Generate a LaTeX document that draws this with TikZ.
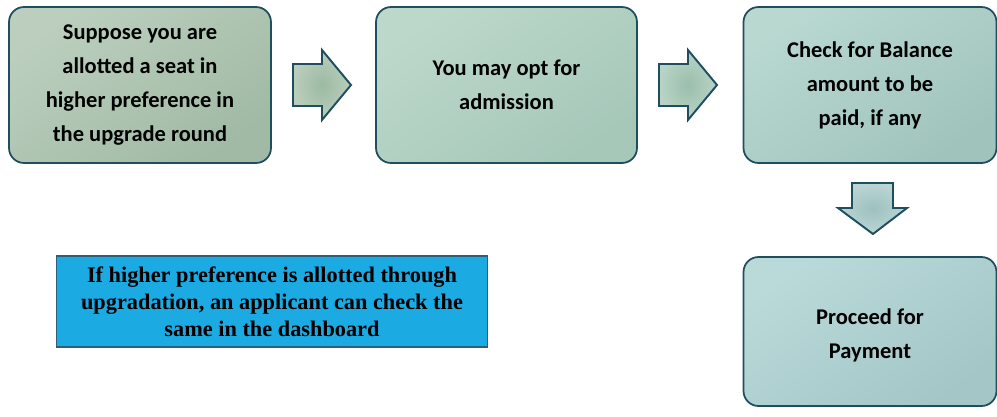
\documentclass[tikz,border=0pt]{standalone}
\usepackage{fontspec}
\setmainfont{Carlito}
\newfontfamily\notefont{Liberation Serif}
\usepackage{xcolor}
\usepackage{tikz}
\usetikzlibrary{positioning}

\definecolor{edgeteal}{HTML}{1F4E5F}
\definecolor{noteblue}{HTML}{1CAAE2}
\definecolor{noteedge}{HTML}{2B5F7A}

\tikzset{
  stepbox/.style={draw=edgeteal, line width=1pt, rounded corners=8.5pt,
    align=center, inner sep=0pt, text=black,
    font=\bfseries\fontsize{12.8}{19.3}\selectfont,
    minimum width=5.24cm, minimum height=3.12cm},
  blockarrow/.style={draw=edgeteal, line width=1.1pt, line join=miter},
  notebox/.style={draw=noteedge, line width=0.6pt, fill=noteblue, align=center,
    inner sep=0pt, font=\notefont\bfseries\fontsize{12.7}{15.3}\selectfont,
    minimum width=8.64cm, minimum height=1.82cm}
}

\begin{document}
\begin{tikzpicture}[x=0.02cm, y=-0.02cm]
\useasboundingbox (0,0) rectangle (997,416);

% the three steps of the top row
\node[stepbox, top color={rgb,255:red,188;green,207;blue,190},
  bottom color={rgb,255:red,160;green,186;blue,165}, shading angle=35]
  (allot) at (140,85) {Suppose you are\\allotted a seat in\\higher preference in\\the upgrade round};
\node[stepbox, top color={rgb,255:red,188;green,216;blue,202},
  bottom color={rgb,255:red,166;green,200;blue,185}, shading angle=35, minimum width=5.22cm]
  (opt) at (506.5,85) {You may opt for\\admission};
\node[stepbox, top color={rgb,255:red,184;green,216;blue,208},
  bottom color={rgb,255:red,160;green,196;blue,188}, shading angle=35, minimum width=5.06cm]
  (balance) at (870,85) {Check for Balance\\amount to be\\paid, if any};

% last step
\node[stepbox, top color={rgb,255:red,186;green,218;blue,218},
  bottom color={rgb,255:red,164;green,198;blue,198}, shading angle=35,
  minimum width=5.06cm, minimum height=2.98cm]
  (pay) at (870,331.5) {\\[-6pt]Proceed for\\Payment};

% note
\node[notebox] (note) at (272,301.5) {If higher preference is allotted through\\upgradation, an applicant can check the\\same in the dashboard};

% block arrows
\draw[blockarrow, inner color={rgb,255:red,156;green,186;blue,162}, outer color={rgb,255:red,186;green,206;blue,188}]
  (293,64)--(322,64)--(322,50)--(351,85)--(322,120)--(322,106)--(293,106)--cycle;
\draw[blockarrow, inner color={rgb,255:red,156;green,190;blue,172}, outer color={rgb,255:red,184;green,212;blue,198}]
  (659,64)--(688,64)--(688,50)--(717,85)--(688,120)--(688,106)--(659,106)--cycle;
\draw[blockarrow, inner color={rgb,255:red,158;green,192;blue,190}, outer color={rgb,255:red,186;green,214;blue,212}]
  (852,183)--(893,183)--(893,208)--(907,208)--(873,234)--(838,208)--(852,208)--cycle;
\end{tikzpicture}
\end{document}
